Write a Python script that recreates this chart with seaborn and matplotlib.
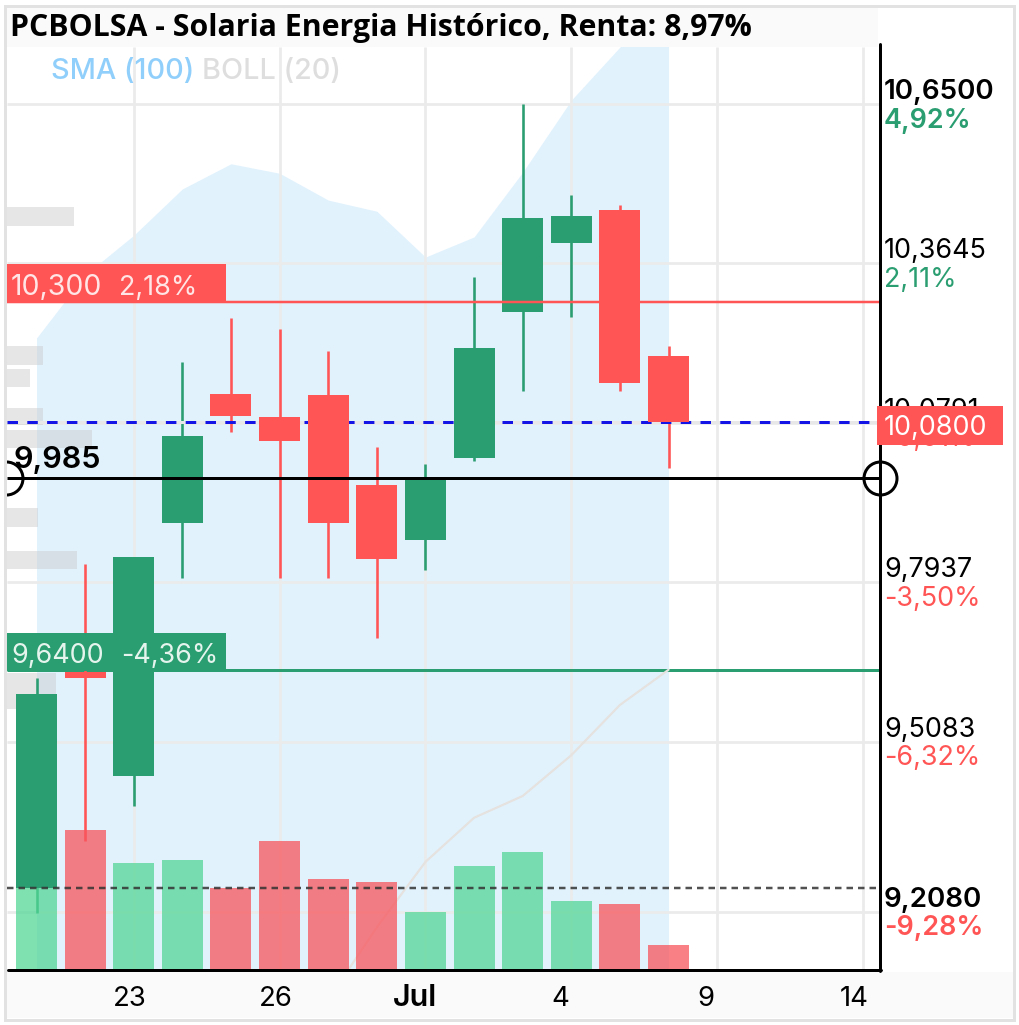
import matplotlib
matplotlib.use("Agg")
import matplotlib.pyplot as plt
from matplotlib.patches import Rectangle
from matplotlib.lines import Line2D
import numpy as np
import pandas as pd
import seaborn as sns

sns.set_theme(style="white")
plt.rcParams["font.family"] = ["Inter", "DejaVu Sans"]

W, H = 1020, 1025

# ---- data ----
days = list(range(14))
opens = [9.246, 9.633, 9.447, 9.900, 10.131, 10.090, 10.129, 9.968, 9.869, 10.016, 10.278, 10.401, 10.460, 10.199]
highs = [9.622, 9.826, 9.839, 10.188, 10.267, 10.247, 10.208, 10.036, 10.005, 10.340, 10.650, 10.487, 10.469, 10.217]
lows = [9.201, 9.330, 9.393, 9.801, 10.063, 9.801, 9.801, 9.694, 9.816, 10.011, 10.136, 10.269, 10.136, 9.998]
closes = [9.594, 9.622, 9.839, 10.056, 10.091, 10.047, 9.900, 9.835, 9.979, 10.213, 10.446, 10.449, 10.150, 10.081]
volumes = [82, 140, 107, 110, 82, 129, 91, 88, 58, 104, 118, 69, 66, 25]
volume_avg = 81.5
sma_upper = [10.231, 10.344, 10.415, 10.498, 10.543, 10.526, 10.478, 10.458, 10.376, 10.412, 10.528, 10.657, 10.752, 10.836]
boll_days = [6, 7, 8, 9, 10, 11, 12, 13]
boll_values = [9.046, 9.176, 9.293, 9.372, 9.411, 9.484, 9.574, 9.637]
profile_prices = [10.449, 10.199, 10.159, 10.091, 10.050, 9.909, 9.833, 9.599]
profile_sizes = [67, 36, 23, 36, 85, 31, 70, 49]
profile_heights = [0.034, 0.034, 0.032, 0.031, 0.032, 0.034, 0.032, 0.065]
axis_prices = [10.65, 10.3645, 10.0791, 9.7937, 9.5083, 9.2035]
axis_labels = ["10,6500", "10,3645", "10,0791", "9,7937", "9,5083", "9,2080"]
axis_pcts = ["4,92%", "2,11%", "-0,01%", "-3,50%", "-6,32%", "-9,28%"]
axis_bold = [True, False, False, False, False, True]
grid_days = [2, 5, 8, 11, 14, 17]
xlabels = ["23", "26", "Jul", "4", "9", "14"]
xlabel_px = [130, 276, 415, 560, 706, 854]
last_price = 10.08
cursor_price = 9.98
resistance = 10.295
support = 9.637

GREEN, RED = "#2A9D71", "#FF5555"
GRID = "#EBEBEB"

# ---- pixel layout ----
L, R, T, B = 7, 879.5, 47, 969.5
X0, DX = 36.5, 48.62
Y0, DY = 104, 558.5
xlim = ((L - X0) / DX, (R - X0) / DX)
ylim = (10.65 - (B - Y0) / DY, 10.65 + (Y0 - T) / DY)
LWPX = 72 / 100

fig = plt.figure(figsize=(W / 100, H / 100), dpi=100, facecolor="white")
rect = [L / W, 1 - B / H, (R - L) / W, (B - T) / H]


def new_axes(z, xl=xlim, yl=ylim):
    a = fig.add_axes(rect, zorder=z, label=f"layer{z}")
    a.patch.set_alpha(0)
    a.set_xlim(*xl)
    a.set_ylim(*yl)
    a.axis("off")
    return a


def px(x, y):
    return x / W, 1 - y / H


# grid and SMA band
ax_bg = new_axes(1)
ax_bg.fill_between(days, sma_upper, ylim[0], color="#E1F2FD", lw=0, zorder=1)
ax_bg.hlines(axis_prices, *xlim, color=GRID, lw=2.7 * LWPX, zorder=2)
ax_bg.vlines(grid_days, *ylim, color=GRID, lw=2.7 * LWPX, zorder=2)

# left-hand volume profile
ax_prof = new_axes(2, xl=(0, R - L))
ax_prof.barh(profile_prices, profile_sizes, height=profile_heights, color="#C8C8C8", alpha=0.45, lw=0)

# candles and price lines
ax = new_axes(3)
ax.hlines(support, xlim[0], xlim[1], color=GREEN, lw=3 * LWPX, zorder=1)
cols = [GREEN if c > o else RED for o, c in zip(opens, closes)]
ax.vlines(days, lows, highs, color=cols, lw=2.6 * LWPX, zorder=2)
ax.hlines(last_price, xlim[0], xlim[1], color="#E8E8E8", lw=3 * LWPX, zorder=2.4)
ax.hlines(last_price, xlim[0], xlim[1], color="#1414E6", lw=3 * LWPX, linestyles=[(0, (3.5, 3.1))], zorder=2.5)
ax.bar(days, np.abs(np.array(closes) - np.array(opens)), bottom=np.minimum(opens, closes),
       width=41 / DX, color=cols, lw=0, zorder=3)
ax.hlines(resistance, xlim[0], xlim[1], color=RED, lw=2.5 * LWPX, zorder=3.5)
sns.lineplot(x=boll_days, y=boll_values, color="#E5E2DF", lw=2.2 * LWPX, ax=ax, zorder=4)
ax.axis("off")
ax.hlines(cursor_price, xlim[0], xlim[1], color="black", lw=3 * LWPX, zorder=6)
ax.plot([xlim[0] - 0.02], [cursor_price], ls="none", marker="o", ms=33 * LWPX,
        mfc="none", mec="black", mew=3 * LWPX, zorder=7, clip_on=True)
ax.set_xlim(*xlim)
ax.set_ylim(*ylim)

# volume bars
ax_vol = new_axes(4, yl=(0, B - T))
vol_df = pd.DataFrame({"day": days, "volume": volumes, "dir": ["up" if c > o else "down" for o, c in zip(opens, closes)]})
sns.barplot(data=vol_df, x="day", y="volume", hue="dir", palette={"up": "#54D796", "down": "#F8555C"}, native_scale=True,
            dodge=False, width=41 / DX, saturation=1, alpha=0.75, legend=False, ax=ax_vol, lw=0)
ax_vol.axhline(volume_avg, color="#333333", lw=2.5 * LWPX, ls=(0, (2.6, 2.0)), alpha=0.85)
ax_vol.set_xlim(*xlim)
ax_vol.set_ylim(0, B - T)
ax_vol.axis("off")

# figure-level chrome
for (x, y, w, h) in [(7, 7, 871, 40), (7, 972, 1007, 46)]:
    fig.add_artist(Rectangle(px(x, y + h), w / W, h / H, transform=fig.transFigure, fc="#FAFAFA", ec="none", zorder=6))
fig.add_artist(Rectangle(px(5.5, 1019.5), 1009 / W, 1014 / H, transform=fig.transFigure, fc="none", ec="#E2E2E2",
                         lw=3 * LWPX, zorder=7))
fig.add_artist(Line2D([879.5 / W, 879.5 / W], [1 - 44 / H, 1 - 971 / H], color="black", lw=3 * LWPX, zorder=8))
fig.add_artist(Line2D([8 / W, 881 / W], [1 - 970 / H, 1 - 970 / H], color="black", lw=3 * LWPX, zorder=8))
fig.add_artist(Line2D([879.5 / W], [1 - 478 / H], ls="none", marker="o", ms=33 * LWPX, mfc="none", mec="black",
                      mew=3 * LWPX, zorder=8))


def txt(x, y, s, **kw):
    kw.setdefault("zorder", 10)
    kw.setdefault("va", "center")
    kw.setdefault("ha", "left")
    kw.setdefault("fontsize", 19.4)
    kw.setdefault("color", "black")
    return fig.text(*px(x, y + 2.5), s, **kw)


txt(10, 25.5, "PCBOLSA - Solaria Energia Histórico, Renta: 8,97%", family="Open Sans", weight="bold", fontsize=21.75)
txt(51, 69, "SMA (100)", weight="medium", color="#90CFFB", fontsize=20.7)
txt(202, 69, "BOLL (20)", weight="medium", color="#DEDEDE", fontsize=20.7)

# price axis labels
for p, lab, pct, b in zip(axis_prices, axis_labels, axis_pcts, axis_bold):
    y = Y0 + (10.65 - p) * DY
    txt(884, y - 14.5, lab, weight="semibold" if b else "normal", fontsize=20 if b else 19.4)
    txt(884, y + 14, pct, weight="semibold" if b else "normal", color=GREEN if not pct.startswith("-") else RED)

# boxes
for (x0, y0, x1, y1, c) in [(7, 264, 226, 302, RED), (7, 633, 226, 671, GREEN), (877, 406, 1003, 445, RED)]:
    fig.add_artist(Rectangle(px(x0, y1), (x1 - x0) / W, (y1 - y0) / H, transform=fig.transFigure, fc=c, ec="none", zorder=11))
txt(11, 285, "10,300", color="#FFE5E5", zorder=12, fontsize=20.5)
txt(119, 285, "2,18%", color="#FFE5E5", zorder=12)
txt(11, 653, "9,6400", color="#E5F5EE", zorder=12)
txt(121, 653, "-4,36%", color="#E5F5EE", zorder=12)
txt(884, 426, "10,0800", color="white", zorder=12)
txt(14, 458, "9,985", weight="semibold", zorder=12, fontsize=22)

for x, s in zip(xlabel_px, xlabels):
    txt(x, 996, s, ha="center", weight="semibold" if s == "Jul" else "normal", fontsize=22 if s == "Jul" else 19.8)

fig.savefig("out.png", dpi=100)
